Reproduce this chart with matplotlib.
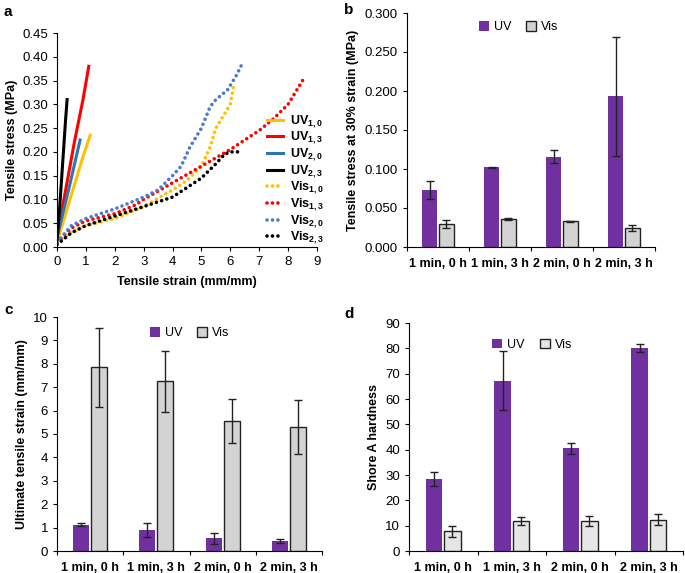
import numpy as np
import matplotlib
matplotlib.use("Agg")
import matplotlib.pyplot as plt
from matplotlib.patches import Patch

plt.rcParams['font.family'] = ['Liberation Sans', 'DejaVu Sans']
plt.rcParams['mathtext.fontset'] = 'custom'
plt.rcParams['mathtext.rm'] = 'Liberation Sans'
plt.rcParams['mathtext.bf'] = 'Liberation Sans:bold'

# ---- panel a: stress-strain curves ----
uv10_x = [0.0, 0.3, 0.6, 0.9, 1.15]
uv10_y = [0.01, 0.07, 0.13, 0.19, 0.235]
uv13_x = [0.0, 0.3, 0.6, 0.9, 1.1]
uv13_y = [0.02, 0.12, 0.22, 0.31, 0.38]
uv20_x = [0.0, 0.4, 0.8]
uv20_y = [0.02, 0.12, 0.225]
uv23_x = [0.0, 0.1, 0.2, 0.3, 0.35]
uv23_y = [0.01, 0.09, 0.18, 0.27, 0.31]

vis10_x = [0.0, 0.5, 1.0, 2.0, 3.0, 4.0, 4.5, 5.0, 5.3, 5.5, 5.7, 6.0, 6.1]
vis10_y = [0.01, 0.03, 0.045, 0.06, 0.085, 0.12, 0.14, 0.17, 0.21, 0.25, 0.27, 0.30, 0.335]
vis13_x = [0.0, 0.5, 1.0, 2.0, 2.7, 3.0, 4.0, 5.0, 6.0, 7.0, 7.5, 8.0, 8.5]
vis13_y = [0.01, 0.04, 0.055, 0.07, 0.088, 0.10, 0.135, 0.17, 0.205, 0.245, 0.27, 0.30, 0.35]
vis20_x = [0.0, 0.5, 1.0, 2.0, 3.0, 3.5, 4.0, 4.3, 4.6, 5.0, 5.3, 5.5, 5.9, 6.2, 6.45]
vis20_y = [0.01, 0.045, 0.06, 0.08, 0.105, 0.12, 0.15, 0.17, 0.21, 0.25, 0.295, 0.31, 0.33, 0.36, 0.39]
vis23_x = [0.0, 0.5, 1.0, 2.0, 3.0, 4.0, 4.5, 5.0, 5.5, 5.8, 6.0, 6.4]
vis23_y = [0.005, 0.03, 0.045, 0.065, 0.085, 0.105, 0.125, 0.145, 0.175, 0.195, 0.2, 0.2]

# ---- bar panels ----
groups = ['1 min, 0 h', '1 min, 3 h', '2 min, 0 h', '2 min, 3 h']

stress_uv = [0.073, 0.102, 0.116, 0.193]
stress_uv_err = [0.011, 0.001, 0.008, 0.076]
stress_vis = [0.029, 0.036, 0.033, 0.024]
stress_vis_err = [0.005, 0.001, 0.0005, 0.004]

strain_uv = [1.13, 0.9, 0.55, 0.43]
strain_uv_err = [0.07, 0.3, 0.23, 0.1]
strain_vis = [7.85, 7.25, 5.55, 5.3]
strain_vis_err = [1.7, 1.3, 0.95, 1.15]

shore_uv = [28.3, 67.2, 40.5, 80.3]
shore_uv_err = [2.7, 11.6, 2.1, 1.6]
shore_vis = [7.7, 11.9, 11.9, 12.3]
shore_vis_err = [2.3, 1.7, 1.9, 2.2]

purple = '#7030A0'
W, H = 685, 573
fig = plt.figure(figsize=(W / 100, H / 100), dpi=100)


def px_axes(x0, y0, x1, y1):
    return fig.add_axes([x0 / W, 1 - y1 / H, (x1 - x0) / W, (y1 - y0) / H])


def style(ax):
    for s in ['top', 'right']:
        ax.spines[s].set_visible(False)
    ax.tick_params(labelsize=9.5, length=3, width=0.8)


# panel a
ax = px_axes(57, 33, 317, 247)
style(ax)
ax.plot(uv10_x, uv10_y, color='#FFC000', lw=2.2, label=r'UV$_{\mathbf{1,0}}$')
ax.plot(uv13_x, uv13_y, color='#FF0000', lw=2.2, label=r'UV$_{\mathbf{1,3}}$')
ax.plot(uv20_x, uv20_y, color='#2E75B6', lw=2.2, label=r'UV$_{\mathbf{2,0}}$')
ax.plot(uv23_x, uv23_y, color='black', lw=2.2, label=r'UV$_{\mathbf{2,3}}$')
dots = dict(lw=2.6, linestyle=(0, (0.01, 1.5)), dash_capstyle='round')
ax.plot(vis10_x, vis10_y, color='#FFC000', label=r'Vis$_{\mathbf{1,0}}$', **dots)
ax.plot(vis13_x, vis13_y, color='#FF0000', label=r'Vis$_{\mathbf{1,3}}$', **dots)
ax.plot(vis20_x, vis20_y, color='#4A7CCB', label=r'Vis$_{\mathbf{2,0}}$', **dots)
ax.plot(vis23_x, vis23_y, color='black', label=r'Vis$_{\mathbf{2,3}}$', **dots)
ax.set_xlim(0, 9)
ax.set_ylim(0, 0.45)
ax.set_xticks(range(10))
ax.set_yticks(np.arange(0, 0.451, 0.05))
ax.yaxis.set_major_formatter(plt.FormatStrFormatter('%.2f'))
ax.set_xlabel('Tensile strain (mm/mm)', fontsize=9, fontweight='bold', labelpad=6)
ax.set_ylabel('Tensile stress (MPa)', fontsize=9, fontweight='bold', labelpad=3)
leg = ax.legend(loc='lower right', bbox_to_anchor=(1.07, -0.05), frameon=False,
                prop={'size': 9, 'weight': 'bold'}, handlelength=1.3,
                handletextpad=0.5, labelspacing=0.0)


def bar_panel(rect, uv, uv_err, vis, vis_err, vis_color, ylim, yticks, fmt,
              ylabel, leg_anchor):
    ax = px_axes(*rect)
    style(ax)
    x = np.arange(len(groups))
    ekw = dict(ecolor='#222222', elinewidth=1, capsize=3, capthick=1)
    ax.bar(x - 0.135, uv, 0.24, yerr=uv_err, color=purple, error_kw=ekw, zorder=2)
    ax.bar(x + 0.135, vis, 0.24, yerr=vis_err, color=vis_color, edgecolor='#222222',
           linewidth=1, error_kw=ekw, zorder=2)
    ax.set_xlim(-0.5, len(groups) - 0.5)
    ax.set_ylim(*ylim)
    ax.set_yticks(yticks)
    ax.yaxis.set_major_formatter(plt.FormatStrFormatter(fmt))
    ax.set_xticks(np.arange(-0.5, len(groups)), labels=[''] * (len(groups) + 1))
    ax.set_xticks(x, labels=groups, minor=True)
    ax.tick_params(axis='x', which='minor', length=0, labelsize=9, pad=8)
    for t in ax.get_xticklabels(minor=True):
        t.set_fontweight('bold')
    ax.set_ylabel(ylabel, fontsize=9, fontweight='bold', labelpad=4)
    handles = [Patch(facecolor=purple, label='UV'),
               Patch(facecolor=vis_color, edgecolor='#222222', label='Vis')]
    ax.legend(handles=handles, loc='center', bbox_to_anchor=leg_anchor, ncol=2,
              frameon=False, fontsize=9, handlelength=0.8, handleheight=0.8,
              handletextpad=0.4, columnspacing=1.2)
    return ax


bar_panel((407, 13, 655, 247), stress_uv, stress_uv_err, stress_vis, stress_vis_err,
          '#D3D3D3', (0, 0.3), np.arange(0, 0.301, 0.05), '%.3f',
          'Tensile stress at 30% strain (MPa)', (0.45, 0.94))
bar_panel((57, 317, 322, 551), strain_uv, strain_uv_err, strain_vis, strain_vis_err,
          '#D3D3D3', (0, 10), range(0, 11), '%d',
          'Ultimate tensile strain (mm/mm)', (0.5, 0.93))
bar_panel((409, 323, 683, 551), shore_uv, shore_uv_err, shore_vis, shore_vis_err,
          '#E6E6E6', (0, 90), range(0, 91, 10), '%d',
          'Shore A hardness', (0.45, 0.905))

fig.text(4 / W, 1 - 12 / H, 'a', fontsize=11, fontweight='bold', va='center')
fig.text(344 / W, 1 - 10 / H, 'b', fontsize=11, fontweight='bold', va='center')
fig.text(4 / W, 1 - 310 / H, 'c', fontsize=11, fontweight='bold', va='center')
fig.text(344 / W, 1 - 314 / H, 'd', fontsize=11, fontweight='bold', va='center')

fig.savefig('out.png', dpi=100)
